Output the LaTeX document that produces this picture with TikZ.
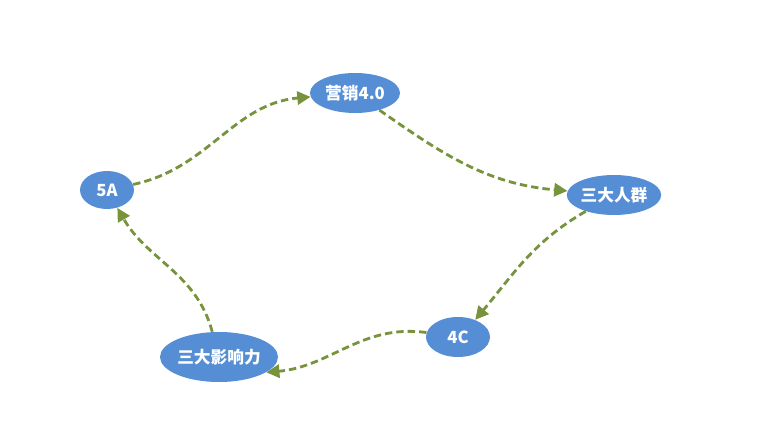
\documentclass[tikz,border=0pt]{standalone}
\usepackage{fontspec}
\setmainfont{Noto Sans CJK SC}
\usepackage{xcolor}
\usetikzlibrary{arrows.meta,shapes.geometric}
\definecolor{nodeblue}{HTML}{558ED5}
\definecolor{linkgreen}{HTML}{77933C}

\begin{document}
\begin{tikzpicture}[font=\fontsize{9.5}{11}\selectfont\bfseries,
  stage/.style={ellipse,fill=nodeblue,text=white,inner sep=0pt},
  link/.style={linkgreen,line width=1.6pt,dash pattern=on 4.2pt off 2.3pt,-{Triangle[length=7.5pt,width=7.5pt]}}]
\useasboundingbox (0,0) rectangle (15.46,8.48);
\node[stage,minimum width=1.8cm,minimum height=0.8cm] (mkt) at (7.10,6.62) {营销4.0};
\node[stage,minimum width=1.08cm,minimum height=0.76cm] (fiveA) at (2.14,4.68) {5A};
\node[stage,minimum width=1.88cm,minimum height=0.8cm] (crowd) at (12.28,4.58) {三大人群};
\node[stage,minimum width=1.28cm,minimum height=0.8cm] (fourC) at (9.16,1.74) {4C};
\node[stage,minimum width=2.26cm,minimum height=1.0cm] (infl) at (4.38,1.34) {三大影响力};
\draw[link] (fiveA) to[out=12,in=185] (mkt);
\draw[link] (mkt) to[out=-35,in=175] (crowd);
\draw[link] (crowd) to[out=-150,in=50] (fourC.45);
\draw[link] (fourC) to[out=172,in=5] (infl.-18);
\draw[link] (infl) to[out=105,in=-60] (fiveA);
\end{tikzpicture}
\end{document}
